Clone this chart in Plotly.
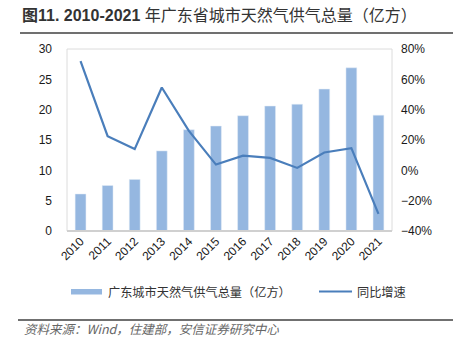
import plotly.graph_objects as go

years = ["2010", "2011", "2012", "2013", "2014", "2015", "2016", "2017", "2018", "2019", "2020", "2021"]
supply = [6.1, 7.5, 8.5, 13.2, 16.7, 17.3, 19.0, 20.6, 20.9, 23.4, 26.9, 19.1]
growth = [72.0, 22.5, 14.0, 54.6, 26.0, 3.8, 9.7, 8.2, 1.6, 11.8, 14.6, -28.7]

bar_name = "广东城市天然气供气总量（亿方）"
line_name = "同比增速"
title_prefix = "图11. 2010-2021"
title_rest = " 年广东省城市天然气供气总量（亿方）"
source_text = "资料来源：Wind，住建部，安信证券研究中心"

bar_color = "#95B7E0"
line_color = "#4A7EBB"
font_family = "Liberation Sans, Noto Sans CJK SC, sans-serif"
cjk_family = "Noto Sans CJK SC, sans-serif"

fig = go.Figure()
fig.add_trace(go.Bar(x=years, y=supply, name=bar_name, marker_color=bar_color,
                     width=0.4, showlegend=False))
fig.add_trace(go.Scatter(x=years, y=growth, name=line_name, yaxis="y2", mode="lines",
                         line=dict(color=line_color, width=2.2), showlegend=False))

W, H = 462, 343
L, R, T, B = 67, 70, 49, 112

fig.update_layout(
    width=W, height=H,
    margin=dict(l=L, r=R, t=T, b=B),
    paper_bgcolor="white", plot_bgcolor="white",
    font=dict(family=font_family, size=12, color="#1a1a1a"),
    xaxis=dict(type="category", tickangle=-45, showline=False, ticks="",
               tickfont=dict(size=12, family=font_family), showgrid=False),
    yaxis=dict(range=[0, 30], dtick=5, showgrid=False, zeroline=False, ticks="",
               showline=False, tickfont=dict(size=12), ticklabelstandoff=14),
    yaxis2=dict(range=[-40, 80], dtick=20, overlaying="y", side="right", showgrid=False,
                zeroline=False, ticks="", showline=False, ticksuffix="%",
                tickfont=dict(size=12), ticklabelstandoff=8),
    bargap=0.6,
)


def fx(x):
    return (x - L) / (W - L - R)


def fy(y):
    return (H - B - y) / (H - T - B)


shapes = []
# plot frame
shapes.append(dict(type="rect", xref="paper", yref="paper", x0=0, x1=1, y0=0, y1=1,
                   line=dict(color="#DCDCDC", width=1)))
shapes.append(dict(type="line", xref="paper", yref="paper", x0=0, x1=1, y0=0, y1=0,
                   line=dict(color="#D0D0D0", width=2)))
# title underline
shapes.append(dict(type="line", xref="paper", yref="paper", x0=fx(20), x1=fx(453),
                   y0=fy(33), y1=fy(33), line=dict(color="#404040", width=1.5)))
# source top line
shapes.append(dict(type="line", xref="paper", yref="paper", x0=fx(18), x1=fx(453),
                   y0=fy(320), y1=fy(320), line=dict(color="#707070", width=2)))
# legend symbols
shapes.append(dict(type="rect", xref="paper", yref="paper", x0=fx(71), x1=fx(102),
                   y0=fy(294.5), y1=fy(289), fillcolor=bar_color, line=dict(width=0)))
shapes.append(dict(type="line", xref="paper", yref="paper", x0=fx(319), x1=fx(352),
                   y0=fy(291.5), y1=fy(291.5), line=dict(color=line_color, width=2.2)))

annotations = [
    dict(text="<b>" + title_prefix + "</b>" + title_rest, xref="paper", yref="paper",
         x=fx(20), y=fy(15), xanchor="left", yanchor="middle", showarrow=False,
         font=dict(size=16, color="#333333", family=font_family)),
    dict(text=bar_name, xref="paper", yref="paper", x=fx(106), y=fy(292),
         xanchor="left", yanchor="middle", showarrow=False,
         font=dict(size=12.2, color="#333333", family=cjk_family)),
    dict(text=line_name, xref="paper", yref="paper", x=fx(355), y=fy(292),
         xanchor="left", yanchor="middle", showarrow=False,
         font=dict(size=12.2, color="#333333", family=cjk_family)),
    dict(text="<i>" + source_text + "</i>", xref="paper", yref="paper", x=fx(22), y=fy(328),
         xanchor="left", yanchor="middle", showarrow=False,
         font=dict(size=12.5, color="#666666", family=cjk_family)),
]

fig.update_layout(shapes=shapes, annotations=annotations)
fig.write_html("out.html")
